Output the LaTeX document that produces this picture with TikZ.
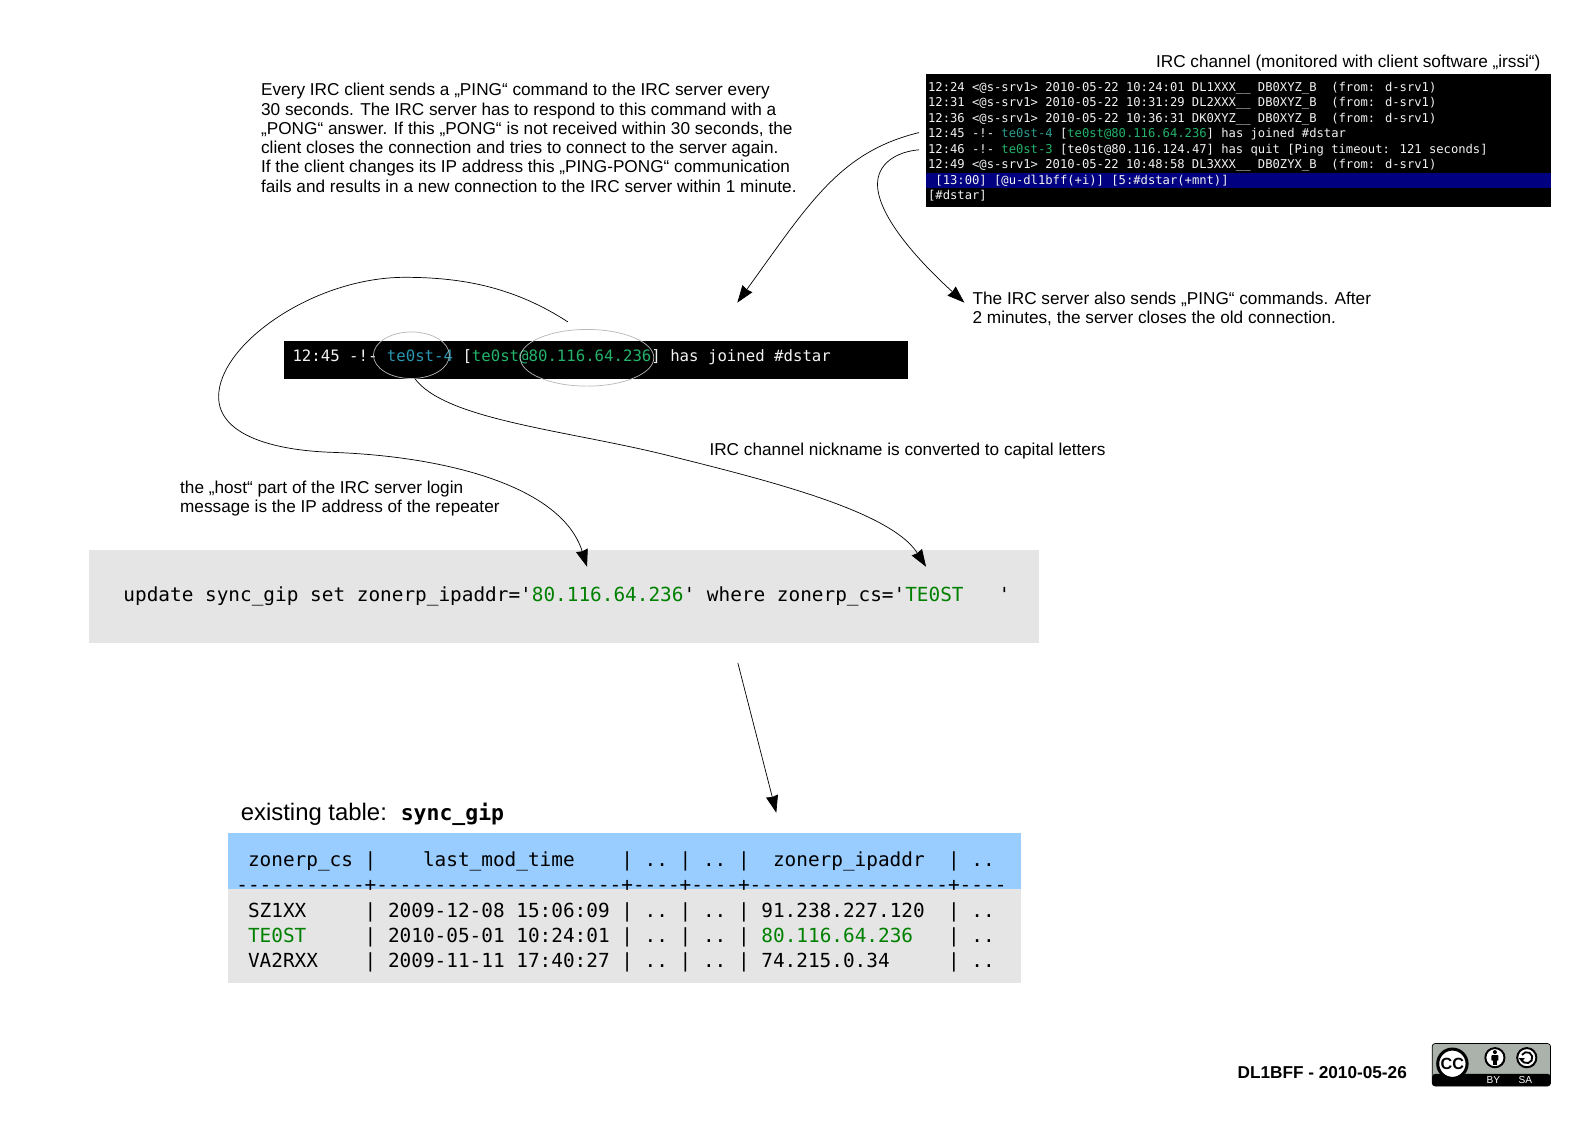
\documentclass[tikz,border=0pt]{standalone}
\usepackage{fontspec}
\usetikzlibrary{arrows.meta,shapes.geometric}
\setmainfont{Liberation Sans}
\newfontfamily\monof[Ligatures=ResetAll]{DejaVu Sans Mono}
\definecolor{termblue}{HTML}{000080}
\definecolor{termteal}{HTML}{2A9D8F}
\definecolor{termgreen}{HTML}{24B36B}
\definecolor{barteal}{HTML}{2A96B0}
\definecolor{sqlgreen}{HTML}{008000}
\definecolor{boxgray}{HTML}{E5E5E5}
\definecolor{headblue}{HTML}{99CCFF}
\definecolor{termwhite}{HTML}{F2F2F2}
\definecolor{badge}{HTML}{AAB2AB}
\tikzset{
  x=1pt,y=-1pt,
  panel/.style={draw=none,inner sep=0,outer sep=0},
  label/.style={inner sep=0,outer sep=0,anchor=north west,align=left,text=black,font=\fontsize{17}{19}\selectfont},
  termtext/.style={inner sep=0,outer sep=0,anchor=north west,align=left,text=termwhite,font=\monof\fontsize{12.03}{15.3}\selectfont},
  bigmono/.style={inner sep=0,outer sep=0,anchor=base west,text=black,font=\monof\fontsize{19.15}{25}\selectfont},
  conn/.style={draw=black,line width=0.7pt},
  arrowed/.style={conn,-{Stealth[length=17pt,width=12pt,inset=1pt]}},
  ringnote/.style={ellipse,draw=black!28,line width=0.7pt,inner sep=0,outer sep=0},
}
\begin{document}
\begin{tikzpicture}
\useasboundingbox (0,0) rectangle (1568,1109.56);
\fill[white] (0,0) rectangle (1568,1109.56);

% terminal
\node[panel,fill=black,anchor=north west,minimum width=617pt,minimum height=132pt] (term) at (915,73) {};
\node[panel,fill=termblue,anchor=north west,minimum width=617pt,minimum height=15pt] (status) at (915,171) {};
\node[termtext] (termlines) at (917,81) {%
12:24 <@s-srv1> 2010-05-22 10:24:01 DL1XXX\_\_ DB0XYZ\_B~~(from: d-srv1)\\
12:31 <@s-srv1> 2010-05-22 10:31:29 DL2XXX\_\_ DB0XYZ\_B~~(from: d-srv1)\\
12:36 <@s-srv1> 2010-05-22 10:36:31 DK0XYZ\_\_ DB0XYZ\_B~~(from: d-srv1)\\
12:45 -!- \textcolor{termteal}{te0st-4} [\textcolor{termgreen}{te0st@80.116.64.236}] has joined \#dstar\\
12:46 -!- \textcolor{termgreen}{te0st-3} [te0st@80.116.124.47] has quit [Ping timeout: 121 seconds]\\
12:49 <@s-srv1> 2010-05-22 10:48:58 DL3XXX\_\_ DB0ZYX\_B~~(from: d-srv1)\\
~[13:00] [@u-dl1bff(+i)] [5:\#dstar(+mnt)]\\{}[\#dstar]};
\node[label,anchor=base east] (termcap) at (1522,67) {IRC channel (monitored with client software „irssi“)};

% explanation
\node[label] (explain) at (258,82.5) {Every IRC client sends a „PING“ command to the IRC server every\\
30 seconds. The IRC server has to respond to this command with a\\
„PONG“ answer. If this „PONG“ is not received within 30 seconds, the\\
client closes the connection and tries to connect to the server again.\\
If the client changes its IP address this „PING-PONG“ communication\\
fails and results in a new connection to the IRC server within 1 minute.};
\node[label] (servernote) at (961,288.5) {The IRC server also sends „PING“ commands. After\\
2 minutes, the server closes the old connection.};
\node[label,anchor=base west] (nicknote) at (701,450) {IRC channel nickname is converted to capital letters};
\node[label] (hostnote) at (178,475) {the „host“ part of the IRC server login\\
message is the IP address of the repeater};

% joined line
\node[panel,fill=black,anchor=north west,minimum width=616pt,minimum height=37pt] (bar) at (281,337) {};
\node[inner sep=0,outer sep=0,anchor=base west,text=termwhite,font=\monof\fontsize{15.5}{18}\selectfont] (barline) at (289,357) {12:45 -!- \textcolor{barteal}{te0st-4} [\textcolor{termgreen}{te0st@80.116.64.236}] has joined \#dstar};
\node[ringnote,minimum width=75pt,minimum height=46pt] (nickring) at (406.5,351) {};
\node[ringnote,minimum width=132pt,minimum height=56pt] (ipring) at (580,353.5) {};

% update statement
\node[panel,fill=boxgray,anchor=north west,minimum width=939pt,minimum height=92pt] (sqlbox) at (88,543) {};
\node[bigmono] (sql) at (122,594) {update sync\_gip set zonerp\_ipaddr='\textcolor{sqlgreen}{80.116.64.236}' where zonerp\_cs='\textcolor{sqlgreen}{TE0ST}~~~'};

% table
\node[label,anchor=base west,font=\fontsize{23.6}{26}\selectfont] (tabcap) at (238,811) {existing table:};
\node[inner sep=0,outer sep=0,anchor=base west,font=\monof\bfseries\fontsize{21.2}{24}\selectfont] (tabname) at (396,811) {sync\_gip};
\node[panel,fill=boxgray,anchor=north west,minimum width=784pt,minimum height=93pt] (tabbody) at (225,878) {};
\node[panel,fill=headblue,anchor=north west,minimum width=784pt,minimum height=55pt] (tabhead) at (225,823) {};
\node[inner sep=0,outer sep=0,anchor=north west,align=left,font=\monof\fontsize{19.15}{25}\selectfont] (tabrows) at (233.5,841.5) {%
~zonerp\_cs~|~~~~last\_mod\_time~~~~|~..~|~..~|~~zonerp\_ipaddr~~|~..\\
-----------+---------------------+----+----+-----------------+----\\
~SZ1XX~~~~~|~2009-12-08 15:06:09~|~..~|~..~|~91.238.227.120~~|~..\\
~\textcolor{sqlgreen}{TE0ST}~~~~~|~2010-05-01 10:24:01~|~..~|~..~|~\textcolor{sqlgreen}{80.116.64.236}~~~|~..\\
~VA2RXX~~~~|~2009-11-11 17:40:27~|~..~|~..~|~74.215.0.34~~~~~|~..};

% connector ends
\coordinate (a0) at (908,131);
\coordinate (a1) at (728.5,299);
\coordinate (b0) at (908,148);
\coordinate (b1) at (952.8,299);
\coordinate (c0) at (561,318);
\coordinate (c1) at (580,560);
\coordinate (d1) at (915,560);
\coordinate (e0) at (729,655);
\coordinate (e1) at (767,803);

\draw[arrowed] (a0) .. controls (830,150) and (800,200) .. (a1);
\draw[arrowed] (b0) .. controls (885,150) and (867,162) .. (867,182) .. controls (867,215) and (912,262) .. (b1);
\draw[arrowed] (c0) .. controls (510,285) and (460,274) .. (400,274) .. controls (310,274) and (216,340) .. (216,392) .. controls (216,428) and (265,445) .. (330,447) .. controls (440,451) and (555,480) .. (c1);
\draw[arrowed] (nickring.-82) .. controls (440,415) and (560,425) .. (660,450) .. controls (760,475) and (880,505) .. (d1);
\draw[arrowed] (e0) -- (e1);

% credit
\node[inner sep=0,outer sep=0,anchor=base east,font=\bfseries\fontsize{17}{19}\selectfont] (credit) at (1390,1066) {DL1BFF - 2010-05-26};

% licence badge
\fill[badge,rounded corners=3pt] (1415,1031) rectangle (1532,1064);
\fill[black,rounded corners=3pt] (1415,1061) rectangle (1532,1073);
\draw[black,line width=0.7pt,rounded corners=3pt] (1415,1031) rectangle (1532,1073);
\fill[white] (1435,1051) circle (15.5);
\draw[black,line width=3pt] (1435,1051) circle (14.5);
\node[inner sep=0,font=\bfseries\fontsize{16}{16}\selectfont] (cc) at (1435,1051) {CC};
\fill[white] (1477,1045) circle (10.5);
\draw[black,line width=2pt] (1477,1045) circle (9.5);
\fill[black] (1477,1039.5) circle (2);
\fill[black,rounded corners=0.8pt] (1473.5,1042.5) rectangle (1480.5,1048);
\fill[black] (1475,1047) rectangle (1479,1052);
\fill[white] (1508.5,1045) circle (10.5);
\draw[black,line width=2pt] (1508.5,1045) circle (9.5);
\draw[black,line width=1.8pt] (1503.74,1042.25) arc[start angle=150,end angle=-150,x radius=5.5pt,y radius=5.5pt];
\fill[black] (1500.5,1045.5) -- (1506.5,1045.5) -- (1503.5,1049) -- cycle;
\node[inner sep=0,text=white,font=\fontsize{10}{10}\selectfont] (by) at (1475.5,1067.3) {BY};
\node[inner sep=0,text=white,font=\fontsize{10}{10}\selectfont] (sa) at (1507,1067.3) {SA};
\end{tikzpicture}
\end{document}
